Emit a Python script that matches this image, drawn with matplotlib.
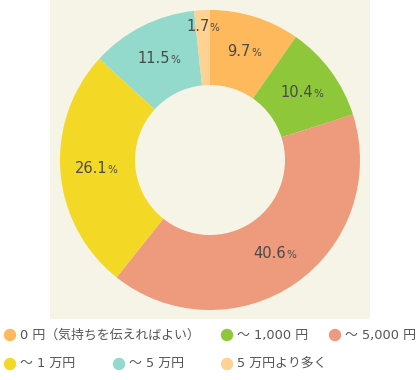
import numpy as np
import matplotlib
matplotlib.use("Agg")
import matplotlib.pyplot as plt
from matplotlib.patches import Rectangle
from matplotlib.offsetbox import TextArea, HPacker, AnnotationBbox

plt.rcParams['font.family'] = ['DejaVu Sans', 'Noto Sans CJK JP']

# data
categories = ['0 円（気持ちを伝えればよい）', '～ 1,000 円', '～ 5,000 円',
              '～ 1 万円', '～ 5 万円', '5 万円より多く']
values = [9.7, 10.4, 40.6, 26.1, 11.5, 1.7]
colors = ['#FDB95B', '#8EC73A', '#EE9A7D', '#F3D926', '#93DACD', '#FDD292']

W, H = 420, 380
fig = plt.figure(figsize=(W / 100, H / 100), dpi=100)

# background layer in pixel coordinates
bg = fig.add_axes([0, 0, 1, 1], zorder=0)
bg.set_xlim(0, W)
bg.set_ylim(H, 0)
bg.axis('off')
bg.add_patch(Rectangle((50, 0), 320, 319, facecolor='#F6F4E7', edgecolor='none'))

# donut
ax = fig.add_axes([60 / W, 70 / H, 300 / W, 300 / H], zorder=1)
wedges, _ = ax.pie(values, colors=colors, startangle=90, counterclock=False,
                   radius=1, wedgeprops=dict(width=0.5, edgecolor='none'))
ax.set_xlim(-1, 1)
ax.set_ylim(-1, 1)
ax.set_aspect('equal')
ax.axis('off')

txt_col = '#4a4a4a'
for w, v in zip(wedges, values):
    ang = np.deg2rad((w.theta1 + w.theta2) / 2)
    r = 0.89 if v < 3 else 0.76
    num = TextArea(f'{v:.1f}', textprops=dict(color=txt_col, fontsize=10.5))
    pct = TextArea('%', textprops=dict(color=txt_col, fontsize=7.5))
    box = HPacker(children=[num, pct], align='baseline', pad=0, sep=0)
    ab = AnnotationBbox(box, (r * np.cos(ang), r * np.sin(ang)), frameon=False,
                        box_alignment=(0.5, 0.5), pad=0)
    ax.add_artist(ab)

# legend
leg_pos = [(10, 335), (227, 335), (335, 335), (10, 364), (119, 364), (227, 364)]
for (x, y), lab, c in zip(leg_pos, categories, colors):
    bg.scatter([x], [y], s=80, color=c, edgecolors='none')
    bg.text(x + 10, y, lab, fontsize=9.3, color='#555555', va='center', ha='left')

fig.savefig('out.png', dpi=100)
